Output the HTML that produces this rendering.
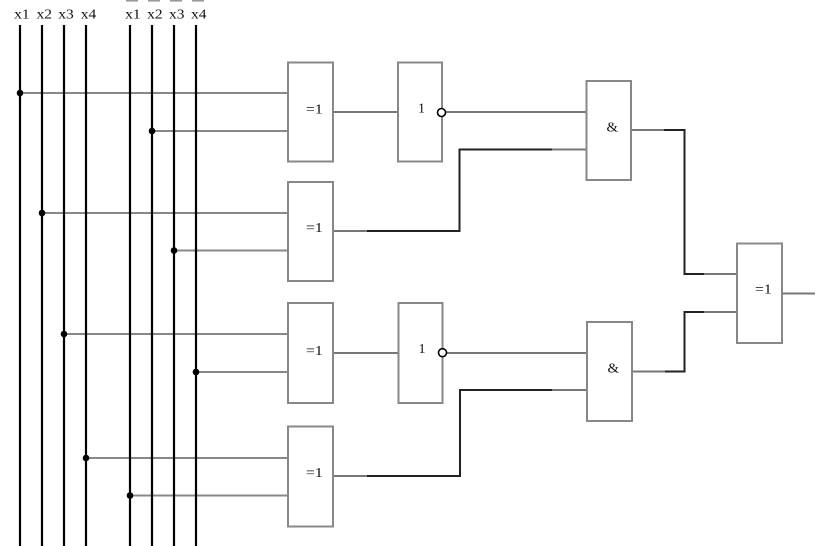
<!DOCTYPE html>
<html><head><meta charset="utf-8"><style>
html,body{margin:0;padding:0;background:#fff;}
svg{display:block;}
text{font-family:"Liberation Serif",serif;font-size:14px;fill:#111;}
</style></head><body>
<svg width="835" height="546" viewBox="0 0 835 546" xmlns="http://www.w3.org/2000/svg">
<!-- labels -->
<text x="14.2" y="18.7" textLength="15.5" lengthAdjust="spacingAndGlyphs">x1</text>
<text x="36.5" y="18.7" textLength="15.5" lengthAdjust="spacingAndGlyphs">x2</text>
<text x="58.3" y="18.7" textLength="15.5" lengthAdjust="spacingAndGlyphs">x3</text>
<text x="80.8" y="18.7" textLength="15.5" lengthAdjust="spacingAndGlyphs">x4</text>
<text x="125.2" y="18.7" textLength="15.5" lengthAdjust="spacingAndGlyphs">x1</text>
<text x="147.2" y="18.7" textLength="15.5" lengthAdjust="spacingAndGlyphs">x2</text>
<text x="169" y="18.7" textLength="15.5" lengthAdjust="spacingAndGlyphs">x3</text>
<text x="191" y="18.7" textLength="15.5" lengthAdjust="spacingAndGlyphs">x4</text>
<g fill="#999">
<rect x="126" y="0" width="12" height="1.6"/>
<rect x="148" y="0" width="12" height="1.6"/>
<rect x="170" y="0" width="12" height="1.6"/>
<rect x="192" y="0" width="12" height="1.6"/>
</g>
<!-- horizontal input lines -->
<g stroke="#888" stroke-width="2" fill="none">
<line x1="20" y1="93" x2="288" y2="93"/>
<line x1="152" y1="131" x2="288" y2="131"/>
<line x1="42" y1="213" x2="288" y2="213"/>
<line x1="174" y1="250.5" x2="288" y2="250.5"/>
<line x1="64" y1="334" x2="288" y2="334"/>
<line x1="196" y1="372" x2="288" y2="372"/>
<line x1="86" y1="458" x2="288" y2="458"/>
<line x1="130" y1="495.5" x2="288" y2="495.5"/>
</g>
<!-- bus lines -->
<g stroke="#000" stroke-width="2.2">
<line x1="20" y1="25" x2="20" y2="546"/>
<line x1="42" y1="25" x2="42" y2="546"/>
<line x1="64" y1="25" x2="64" y2="546"/>
<line x1="86" y1="25" x2="86" y2="546"/>
<line x1="130" y1="25" x2="130" y2="546"/>
<line x1="152" y1="25" x2="152" y2="546"/>
<line x1="174" y1="25" x2="174" y2="546"/>
<line x1="196" y1="25" x2="196" y2="546"/>
</g>
<g fill="#000">
<circle cx="20" cy="93" r="3.3"/>
<circle cx="152" cy="131" r="3.3"/>
<circle cx="42" cy="213" r="3.3"/>
<circle cx="174" cy="250.5" r="3.3"/>
<circle cx="64" cy="334" r="3.3"/>
<circle cx="196" cy="372" r="3.3"/>
<circle cx="86" cy="458" r="3.3"/>
<circle cx="130" cy="495.5" r="3.3"/>
</g>
<!-- connectors -->
<g stroke="#777" stroke-width="2" fill="none">
<line x1="333" y1="112" x2="398" y2="112"/>
<line x1="446" y1="112" x2="587" y2="112"/>
<polyline points="333,231 459.5,231 459.5,149.5 587,149.5"/>
<line x1="333" y1="353" x2="398" y2="353"/>
<line x1="446" y1="353" x2="587" y2="353"/>
<polyline points="333,476 460,476 460,390 587,390"/>
<polyline points="631,130 684.5,130 684.5,274 737,274"/>
<polyline points="632,371.5 684.5,371.5 684.5,312 737,312"/>
<line x1="782" y1="293.5" x2="815" y2="293.5"/>
</g>
<g stroke="#222" stroke-width="2" fill="none">
<polyline points="367,231 459.5,231 459.5,149.5 552,149.5"/>
<polyline points="367,476 460,476 460,390 552,390"/>
<polyline points="664,130 684.5,130 684.5,274 704,274"/>
<polyline points="665,371.5 684.5,371.5 684.5,312 704,312"/>
</g>
<!-- gates -->
<g stroke="#888" stroke-width="2" fill="#fff">
<rect x="288" y="62.5" width="45" height="99"/>
<rect x="288" y="182" width="45" height="99"/>
<rect x="288" y="303" width="45" height="100"/>
<rect x="288" y="426.5" width="45" height="100"/>
<rect x="398" y="62.5" width="44" height="99"/>
<rect x="398.5" y="303" width="44" height="100"/>
<rect x="586.5" y="81" width="44.5" height="99"/>
<rect x="587" y="322" width="45" height="99"/>
<rect x="737" y="243.5" width="45" height="99.5"/>
</g>
<g stroke="#000" stroke-width="1.6" fill="#fff">
<circle cx="441.5" cy="112.5" r="4"/>
<circle cx="442.5" cy="352.7" r="4"/>
</g>
<g>
<text x="306" y="113.5" textLength="16.7" lengthAdjust="spacingAndGlyphs">=1</text>
<text x="306" y="232" textLength="16.7" lengthAdjust="spacingAndGlyphs">=1</text>
<text x="306" y="355" textLength="16.7" lengthAdjust="spacingAndGlyphs">=1</text>
<text x="306" y="477" textLength="16.7" lengthAdjust="spacingAndGlyphs">=1</text>
<text x="418" y="112.5" textLength="7" lengthAdjust="spacingAndGlyphs">1</text>
<text x="418.5" y="353" textLength="7" lengthAdjust="spacingAndGlyphs">1</text>
<text x="606.5" y="131.5" textLength="11.5" lengthAdjust="spacingAndGlyphs">&amp;</text>
<text x="607.5" y="372.5" textLength="11.5" lengthAdjust="spacingAndGlyphs">&amp;</text>
<text x="755" y="293.5" textLength="16.7" lengthAdjust="spacingAndGlyphs">=1</text>
</g>
</svg>
</body></html>
